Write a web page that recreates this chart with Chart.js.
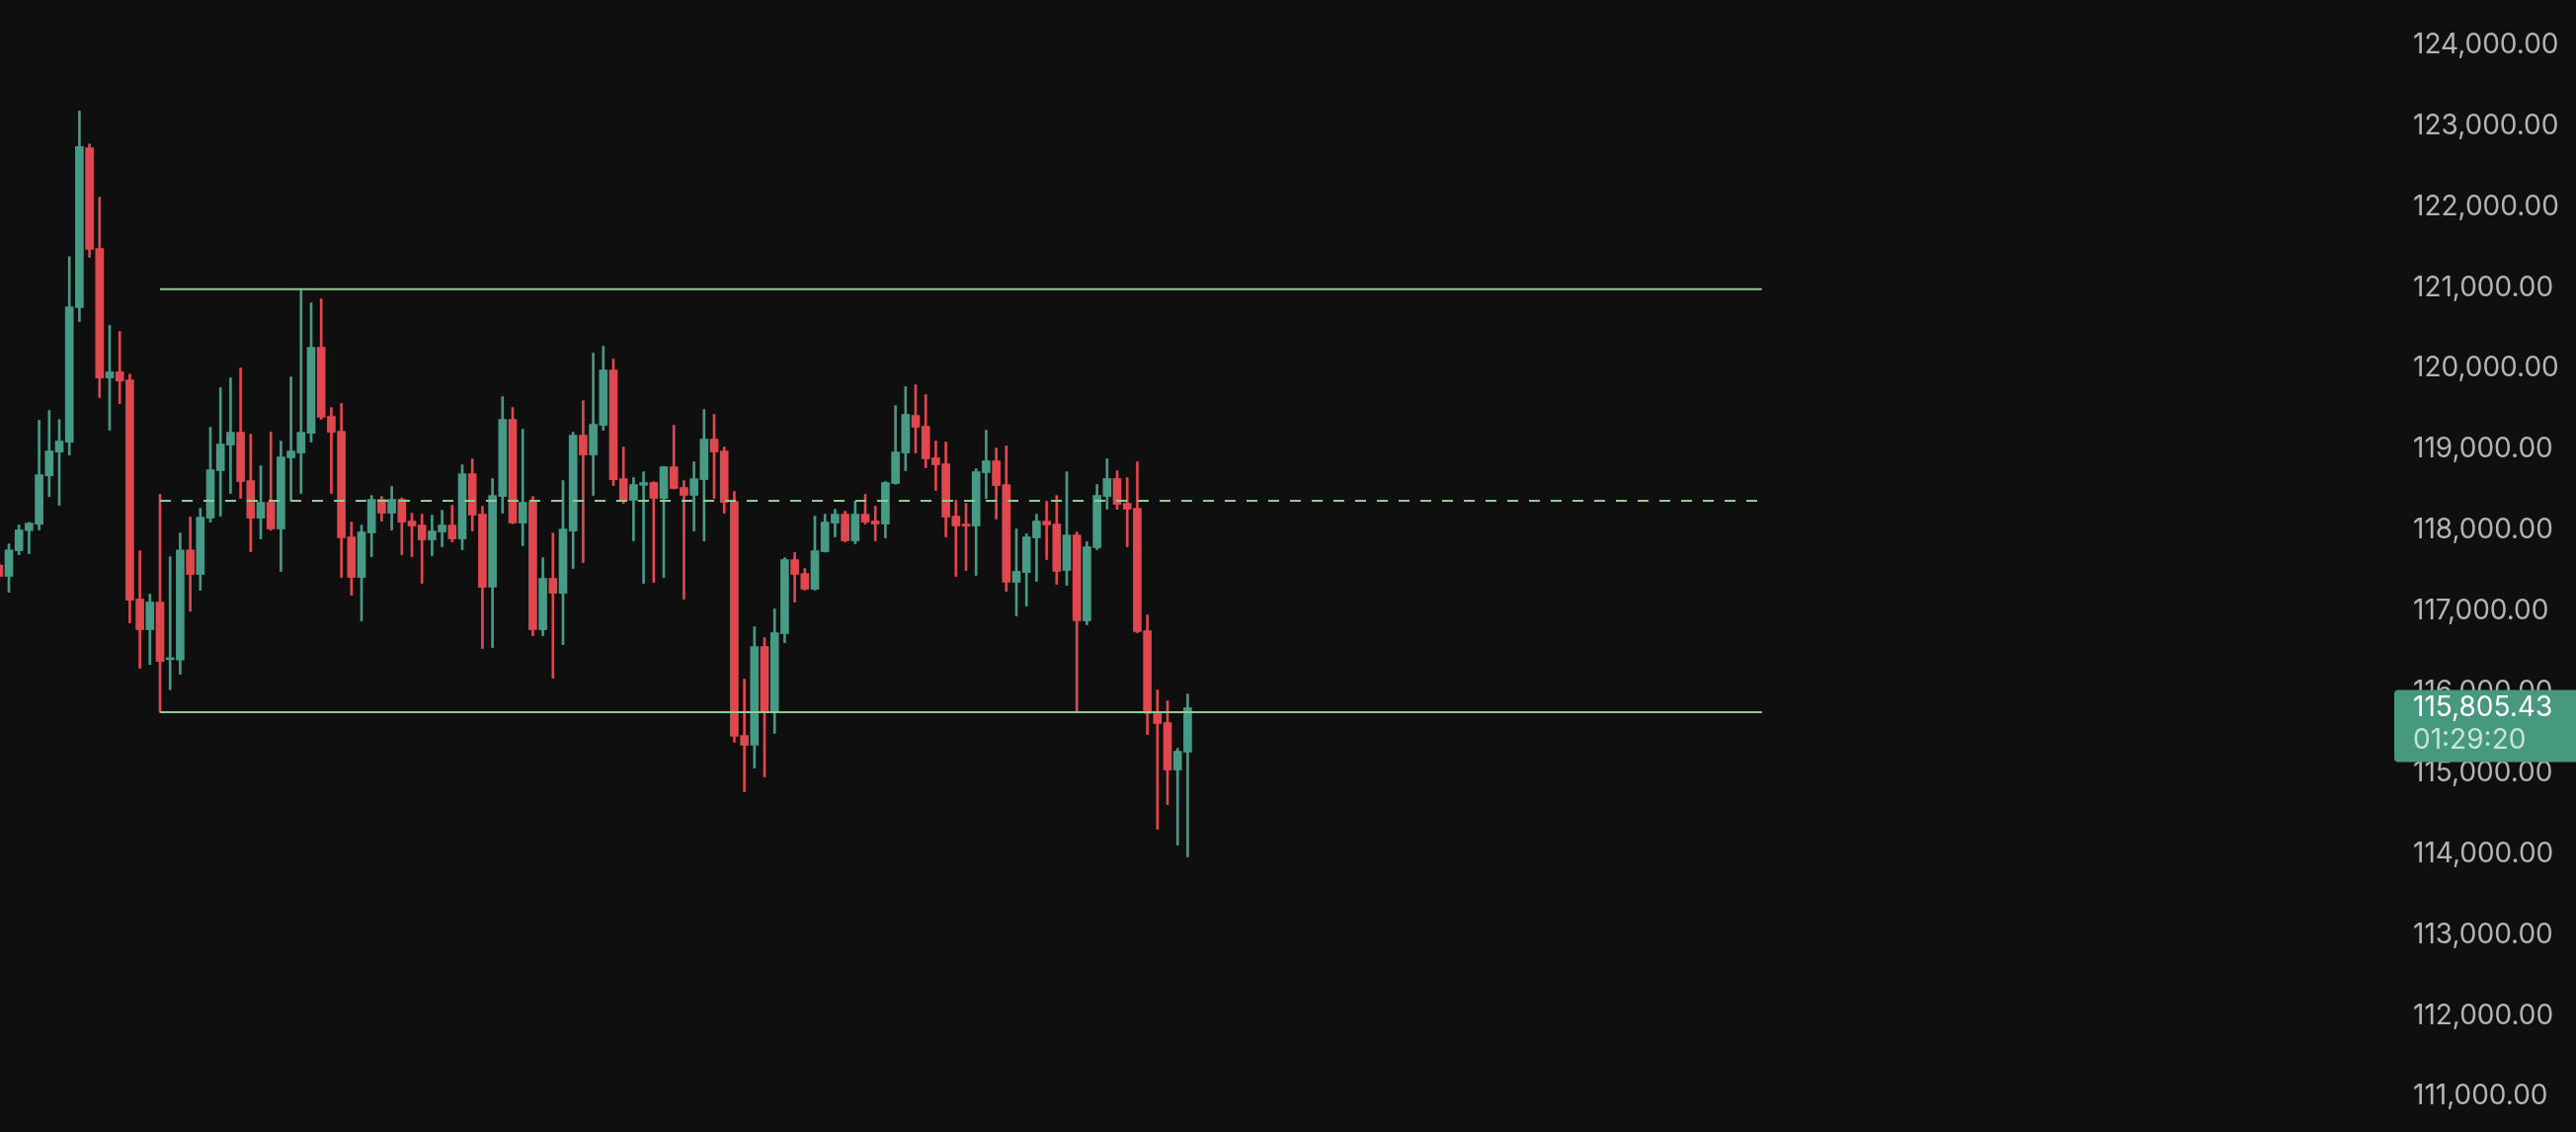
<!DOCTYPE html>
<html>
<head>
<meta charset="utf-8">
<title>BTC candles</title>
<script src="https://cdn.jsdelivr.net/npm/chart.js@4.4.1/dist/chart.umd.min.js"></script>
<style>
    html, body { margin: 0; padding: 0; background: #0f0f0f; overflow: hidden; }
    canvas { display: block; }
</style>
</head>
<body>
<canvas id="chart" width="2608" height="1146"></canvas>
<script>
// OHLC, one entry per candle
const opens = [
    117570, 117430, 117747, 117995, 118074, 118673, 118967, 119089, 120753, 122730,
    121482, 119883, 119958, 119860, 117149, 116770, 117112, 116400, 116396, 117757,
    117454, 118150, 118736, 119054, 119212, 118614, 118150, 118345, 118016, 118895,
    118956, 119200, 120263, 119408, 119225, 117918, 117417, 117967, 118382, 118211,
    118382, 118113, 118064, 117881, 117979, 118064, 117893, 118699, 118199, 117295,
    118418, 119371, 118089, 118357, 116770, 117405, 117221, 117991, 119176, 118931,
    119298, 119982, 118638, 118370, 118557, 118590, 118394, 118785, 118529, 118431,
    118626, 119127, 118980, 118358, 115463, 115341, 116562, 115744, 116721, 117637,
    117466, 117271, 117735, 118089, 118199, 117869, 118199, 118114, 118077, 118578,
    118956, 119420, 119286, 118895, 118822, 118175, 118077, 118052, 118712, 118858,
    118565, 117356, 117478, 117906, 118113, 118077, 117503, 117942, 116880, 117784,
    118419, 118639, 118333, 118272, 116758, 115736, 115622, 115036, 115256
];
const highs = [
    117620, 117831, 118065, 118098, 119360, 119481, 119369, 121384, 123183, 122776,
    122117, 120533, 120458, 119930, 117747, 117210, 118444, 117672, 117967, 118163,
    118272, 119274, 119762, 119884, 120006, 119188, 118797, 119212, 119102, 119896,
    120971, 120812, 120861, 119518, 119567, 118101, 118064, 118431, 118419, 118541,
    118400, 118211, 118199, 118186, 118247, 118308, 118809, 118882, 118296, 118638,
    119652, 119518, 119249, 118418, 117661, 117966, 118614, 119212, 119603, 120190,
    120275, 120116, 119029, 118651, 118724, 118600, 118790, 119298, 118614, 118846,
    119493, 119432, 119029, 118480, 116159, 116807, 116672, 117026, 117661, 117723,
    117527, 118175, 118199, 118260, 118236, 118358, 118443, 118297, 118602, 119542,
    119775, 119799, 119677, 119103, 119091, 118370, 118333, 118761, 119237, 119017,
    119042, 118016, 117955, 118199, 118358, 118431, 118724, 117979, 117857, 118565,
    118883, 118736, 118651, 118846, 116953, 116025, 115891, 115304, 115976
];
const lows = [
    117390, 117233, 117696, 117710, 118004, 118416, 118308, 118930, 120580, 121374,
    119640, 119238, 119565, 116855, 116294, 116340, 115750, 116027, 116219, 116999,
    117258, 118101, 118174, 118455, 118394, 117735, 117893, 118000, 117490, 118370,
    118455, 119090, 119371, 118455, 117417, 117197, 116880, 117674, 118113, 118003,
    117698, 117673, 117344, 117686, 117796, 117857, 117759, 117991, 116538, 116550,
    118211, 118080, 117808, 116696, 116696, 116171, 116586, 117527, 117600, 118431,
    119237, 118553, 118333, 117869, 117344, 117356, 117417, 118510, 117148, 117991,
    117869, 118394, 118211, 115378, 114767, 115060, 114950, 115488, 116611, 117112,
    117260, 117260, 117730, 117918, 117857, 117833, 118077, 117869, 117906, 118570,
    118736, 118956, 118773, 118492, 117918, 117430, 117503, 117442, 118394, 118138,
    117246, 116941, 117063, 117368, 117637, 117332, 117320, 115750, 116831, 117759,
    118260, 118260, 117796, 116733, 115475, 114303, 114608, 114108, 113961
];
const closes = [
    117430, 117757, 118004, 118088, 118687, 118981, 119103, 120762, 122744, 121472,
    119883, 119958, 119846, 117135, 116770, 117112, 116378, 116420, 117757, 117453,
    118162, 118748, 119066, 119212, 118602, 118150, 118345, 118016, 118907, 118980,
    119212, 120263, 119396, 119212, 117906, 117417, 117979, 118382, 118211, 118382,
    118101, 118052, 117881, 117991, 118064, 117893, 118699, 118186, 117295, 118431,
    119371, 118089, 118345, 116770, 117405, 117221, 118015, 119176, 118931, 119310,
    119982, 118626, 118370, 118565, 118590, 118394, 118785, 118516, 118431, 118638,
    119127, 118968, 118345, 115451, 115341, 116562, 115744, 116733, 117637, 117454,
    117271, 117747, 118101, 118199, 117869, 118199, 118101, 118077, 118590, 118968,
    119433, 119274, 118883, 118810, 118162, 118052, 118052, 118724, 118859, 118553,
    117356, 117491, 117918, 118113, 118065, 117491, 117942, 116880, 117796, 118431,
    118639, 118321, 118260, 116746, 115736, 115610, 115036, 115268, 115805.43
];

// range drawn on the chart: top, bottom and the dashed middle
const rangeTop = 120980;
const rangeBottom = 115750;
const rangeMid = 118365;
const rangeFrom = 16;
const rangeTo = 175;

const yTicks = [111000, 112000, 113000, 114000, 115000, 116000, 117000,
    118000, 119000, 120000, 121000, 122000, 123000, 124000];
const countdown = "01:29:20";

const GREEN = "#479b86";
const RED = "#e0474f";
const LINE = "#8fcd8c";
const FONT = "Inter, 'Noto Sans', sans-serif";

document.addEventListener("DOMContentLoaded", () => {
    const ctx = document.getElementById("chart").getContext("2d");
    const lastPrice = closes[closes.length - 1];

    const colors = opens.map((o, i) => (closes[i] >= o ? GREEN : RED));
    const wicks = opens.map((o, i) => ({ x: i, y: [lows[i], highs[i]] }));
    const bodies = opens.map((o, i) => ({ x: i, y: [o, closes[i]] }));

    const fmt = (v) =>
        v.toLocaleString("en-US", { minimumFractionDigits: 2, maximumFractionDigits: 2 });

    const background = {
        id: "background",
        beforeDraw(chart) {
            const c = chart.ctx;
            c.save();
            c.fillStyle = "#0f0f0f";
            c.fillRect(0, 0, chart.width, chart.height);
            c.restore();
        },
    };

    const priceTag = {
        id: "priceTag",
        afterDraw(chart) {
            const c = chart.ctx;
            const y = chart.scales.y.getPixelForValue(lastPrice);
            const left = chart.chartArea.right;
            c.save();
            c.fillStyle = "#46987f";
            c.beginPath();
            c.roundRect(left, y - 18, chart.width - left, 73, [4, 0, 0, 4]);
            c.fill();
            c.font = "28px " + FONT;
            c.textBaseline = "middle";
            c.textAlign = "left";
            c.fillStyle = "#ffffff";
            c.fillText(fmt(lastPrice), left + 19, y);
            c.fillStyle = "rgba(255, 255, 255, 0.72)";
            c.fillText(countdown, left + 19, y + 33);
            c.restore();
        },
    };

    const rangeLine = (value, dash) => ({
        type: "line",
        data: [{ x: rangeFrom, y: value }, { x: rangeTo, y: value }],
        borderColor: LINE,
        borderWidth: 2,
        borderDash: dash,
        pointRadius: 0,
        order: 0,
    });

    new Chart(ctx, {
        type: "bar",
        data: {
            datasets: [
                rangeLine(rangeTop, []),
                rangeLine(rangeMid, [11, 11]),
                rangeLine(rangeBottom, []),
                {
                    data: bodies,
                    backgroundColor: colors,
                    barThickness: 8,
                    minBarLength: 2,
                    grouped: false,
                    order: 1,
                },
                {
                    data: wicks,
                    backgroundColor: colors,
                    barThickness: 2,
                    grouped: false,
                    order: 2,
                },
            ],
        },
        options: {
            responsive: false,
            animation: false,
            devicePixelRatio: 1,
            layout: { padding: 0 },
            plugins: {
                legend: { display: false },
                tooltip: { enabled: false },
            },
            scales: {
                x: {
                    type: "linear",
                    display: false,
                    offset: false,
                    min: 0.118,
                    max: 237.76,
                },
                y: {
                    position: "right",
                    min: 110560,
                    max: 124556,
                    grid: { display: false, drawTicks: false },
                    border: { display: false },
                    afterBuildTicks: (scale) => {
                        scale.ticks = yTicks.map((v) => ({ value: v }));
                    },
                    afterFit: (scale) => {
                        scale.width = 184;
                        scale.paddingTop = 0;
                        scale.paddingBottom = 0;
                    },
                    ticks: {
                        padding: 19,
                        color: "#b4b4b4",
                        font: { family: FONT, size: 28 },
                        callback: (v) => fmt(v),
                    },
                },
            },
        },
        plugins: [background, priceTag],
    });
});
</script>
</body>
</html>
